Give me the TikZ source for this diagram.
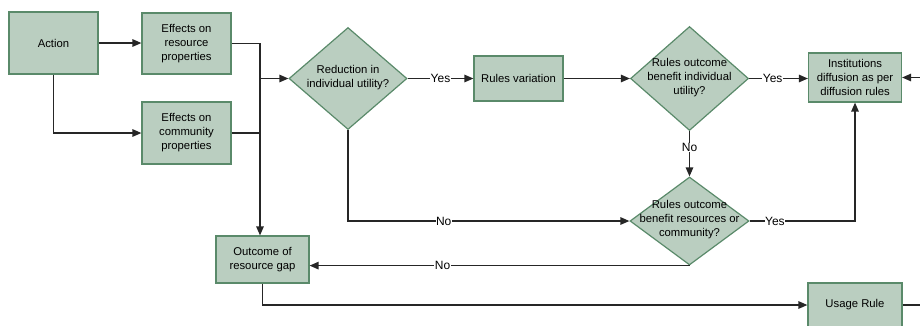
\documentclass[tikz,border=0pt]{standalone}
\usepackage{fontspec}
\setmainfont{Liberation Sans}
\usetikzlibrary{arrows.meta,shapes.geometric}
\definecolor{boxfill}{HTML}{BACEC0}
\definecolor{boxline}{HTML}{5A8A6A}
\tikzset{
  every node/.style={font=\fontsize{11.3}{14}\selectfont, align=center},
  procbox/.style={draw=boxline, fill=boxfill, line width=1.2pt, inner sep=0pt},
  decision/.style={diamond, draw=boxline, fill=boxfill, line width=1.2pt, inner sep=0pt},
  flow/.style={line width=1.3pt, draw=black!85},
  arr/.style={flow, -{Triangle[length=9pt,width=7.5pt]}},
  tag/.style={fill=white, inner sep=0.5pt, font=\fontsize{12}{14}\selectfont}
}
\begin{document}
\begin{tikzpicture}[x=1pt, y=-1pt]
\useasboundingbox (0,0) rectangle (920,325);
\clip (0,0) rectangle (920,325);

% process boxes
\node[procbox, minimum width=89pt, minimum height=62pt] (act) at (53.5,43) {Action};
\node[procbox, minimum width=89pt, minimum height=61pt] (res) at (186.5,43.5) {Effects on\\resource\\properties};
\node[procbox, minimum width=89pt, minimum height=62pt] (com) at (186.5,133) {Effects on\\community\\properties};
\node[procbox, minimum width=89pt, minimum height=45pt] (var) at (518.5,78.5) {Rules variation};
\node[procbox, minimum width=93pt, minimum height=49pt] (inst) at (855,77.5) {Institutions\\diffusion as per\\diffusion rules};
\node[procbox, minimum width=93pt, minimum height=47pt] (out) at (262.5,259.5) {Outcome of\\resource gap};
\node[procbox, minimum width=94pt, minimum height=44pt] (use) at (855,305) {Usage Rule};

% decision diamonds (shape and text drawn separately so the size is fixed)
\node[decision, minimum width=118pt, minimum height=102pt] (d1) at (348,78.5) {};
\node (d1t) at (348,78) {Reduction in\\individual utility?};
\node[decision, minimum width=118pt, minimum height=104pt] (d2) at (689.5,78.5) {};
\node (d2t) at (689.5,77.5) {Rules outcome\\benefit individual\\utility?};
\node[decision, minimum width=119pt, minimum height=88pt] (d3) at (689.5,221) {};
\node (d3t) at (689.5,219.5) {Rules outcome\\benefit resources or\\community?};

% junction and off-page ends
\coordinate (j) at (260,78.5);
\coordinate (inR) at (925,77.5);
\coordinate (outR) at (925,305);

% connectors
\draw[arr] (act.east) -- (act.east -| res.west);
\draw[arr] (act.south) |- (com.west);
\draw[flow] (res.east) -| (j);
\draw[flow] (com.east) -| (j);
\draw[arr] (j) -- (d1.west);
\draw[arr] (j) -- (j |- out.north);
\draw[arr] (d1.east) -- node[tag, pos=0.5] {Yes} (var.west);
\draw[arr] (var.east) -- (d2.west);
\draw[arr] (d2.east) -- node[tag, pos=0.4] {Yes} (d2.east -| inst.west);
\draw[arr] (d2.south) -- node[tag, pos=0.36] {No} (d3.north);
\draw[arr] (d1.south) |- node[tag, pos=0.67] {No} (d3.west);
\draw[arr] (d3.east) -| node[tag, pos=0.12] {Yes} (inst.south);
\draw[arr] (d3.south) -- node[tag, pos=0.65] {No} (d3.south -| out.east);
\draw[arr] (out.south) |- (use.west);
\draw[arr] (inR) -- (inst.east);
\draw[flow] (use.east) -- (outR);
\end{tikzpicture}
\end{document}
